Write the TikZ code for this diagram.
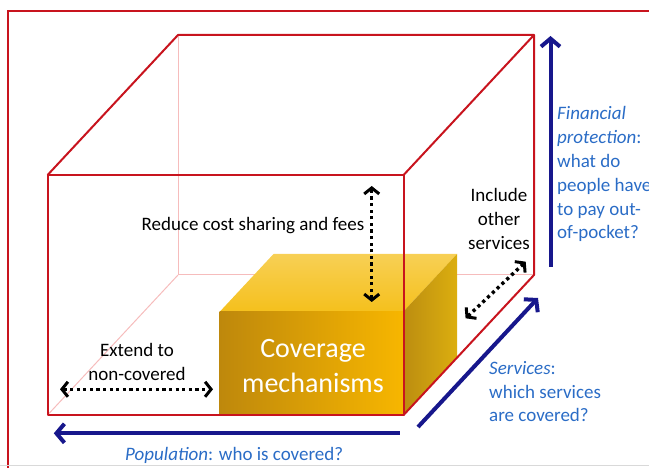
\documentclass[tikz,border=0pt]{standalone}
\usepackage{fontspec}
\setmainfont{Carlito}
\usetikzlibrary{positioning}
\usetikzlibrary{arrows.meta}
\usetikzlibrary{calc}

\definecolor{cubered}{HTML}{C8141E}
\definecolor{faintred}{HTML}{F6BCBC}
\definecolor{navy}{HTML}{17178C}
\definecolor{textblue}{HTML}{2A6CC6}
\definecolor{golddark}{HTML}{BE880C}
\definecolor{goldlight}{HTML}{F7B600}
\definecolor{goldtop}{HTML}{F5C01C}
\definecolor{goldside}{HTML}{D5A012}

\tikzset{
    cubeedge/.style={cubered, line width=2pt, line join=round},
    hiddenedge/.style={faintred, line width=1pt},
    dimarrow/.style={navy, line width=4pt, -{Straight Barb[length=8pt, width=19pt, line width=4pt]}},
    widen/.style={black, line width=3.4pt, dash pattern=on 3.2pt off 3.4pt, {Straight Barb[length=6pt, width=15pt, line width=3pt]}-{Straight Barb[length=6pt, width=15pt, line width=3pt]}},
    boxtext/.style={font=\fontsize{19}{24}\selectfont, align=center, inner sep=0pt},
    dimtext/.style={font=\fontsize{19}{23.8}\selectfont, text=textblue, align=left, inner sep=0pt},
}

\begin{document}
\begin{tikzpicture}[x=1pt, y=-1pt]

    \useasboundingbox (0,0) rectangle (649,468);
    \draw[cubered, line width=2pt] (7.5,470) -- (7.5,11.5) -- (652,11.5);
    \draw[black!15, line width=0.8pt] (0,465.5) -- (649,465.5);

    \coordinate (FTL) at (47.6,175);
    \coordinate (FTR) at (403.6,175);
    \coordinate (FBL) at (47.6,415);
    \coordinate (FBR) at (403.6,415);
    \coordinate (BTL) at (178,35);
    \coordinate (BTR) at (534,35);
    \coordinate (BBL) at (178,275);
    \coordinate (BBR) at (534,275);

    \draw[hiddenedge] (BTL) -- (BBL) -- (BBR);
    \draw[hiddenedge] (BBL) -- (FBL);

    \coordinate (boxFTL) at (219.5,312);
    \coordinate (boxFBR) at (403,415);
    \coordinate (boxBTL) at (273.5,254);
    \coordinate (boxBTR) at (457,254);
    \coordinate (boxBBR) at (457,357);

    \shade[top color=goldtop!75!white, bottom color=goldtop] (boxFTL) -- (boxBTL) -- (boxBTR) -- (boxFBR |- boxFTL) -- cycle;
    \shade[left color=goldside!88!black, right color=goldside!85!yellow] (boxFBR |- boxFTL) -- (boxBTR) -- (boxBBR) -- (boxFBR) -- cycle;
    \shade[shading angle=50, left color=golddark, right color=goldlight] (boxFTL) rectangle (boxFBR);

    \draw[cubeedge] (FTL) rectangle (FBR);
    \draw[cubeedge] (FTL) -- (BTL) -- (BTR) -- (FTR);
    \draw[cubeedge] (BTR) -- (BBR) -- (FBR);

    \node[boxtext, text=white, font=\fontsize{28}{35}\selectfont] (coverage) at (313,366) {Coverage\\mechanisms};
    \node[boxtext] (reduce) at (253,226) {Reduce cost sharing and fees};
    \node[boxtext] (include) at (499,218.5) {Include\\other\\services};
    \node[boxtext] (extend) at (137,362) {Extend to\\non-covered};

    \coordinate (costTop) at (371.7,186);
    \coordinate (costBot) at (371.7,302);
    \coordinate (popLeft) at (60,389.3);
    \coordinate (popRight) at (213,389.3);
    \coordinate (servIn) at (465.6,318.3);
    \coordinate (servOut) at (525.7,261.7);

    \draw[widen] (costBot) -- (costTop);
    \draw[widen] (popLeft) -- (popRight);
    \draw[widen] (servIn) -- (servOut);

    \coordinate (finStart) at (550.5,267);
    \coordinate (finEnd) at (550.5,36);
    \coordinate (servStart) at (418,427);
    \coordinate (servEnd) at (538,298);
    \coordinate (popStart) at (399.5,433.3);
    \coordinate (popEnd) at (53.8,433.3);

    \draw[dimarrow] (finStart) -- (finEnd);
    \draw[dimarrow] (servStart) -- (servEnd);
    \draw[dimarrow] (popStart) -- (popEnd);

    \node[dimtext, anchor=north west] (financial) at (557,106.5) {\textit{Financial}\\\textit{protection}:\\what do\\people have\\to pay out-\\of-pocket?};
    \node[dimtext, anchor=north west] (services) at (489,361) {\textit{Services}:\\which services\\are covered?};
    \node[dimtext, anchor=west] (population) at (125,455) {\textit{Population}: who is covered?};

\end{tikzpicture}
\end{document}
